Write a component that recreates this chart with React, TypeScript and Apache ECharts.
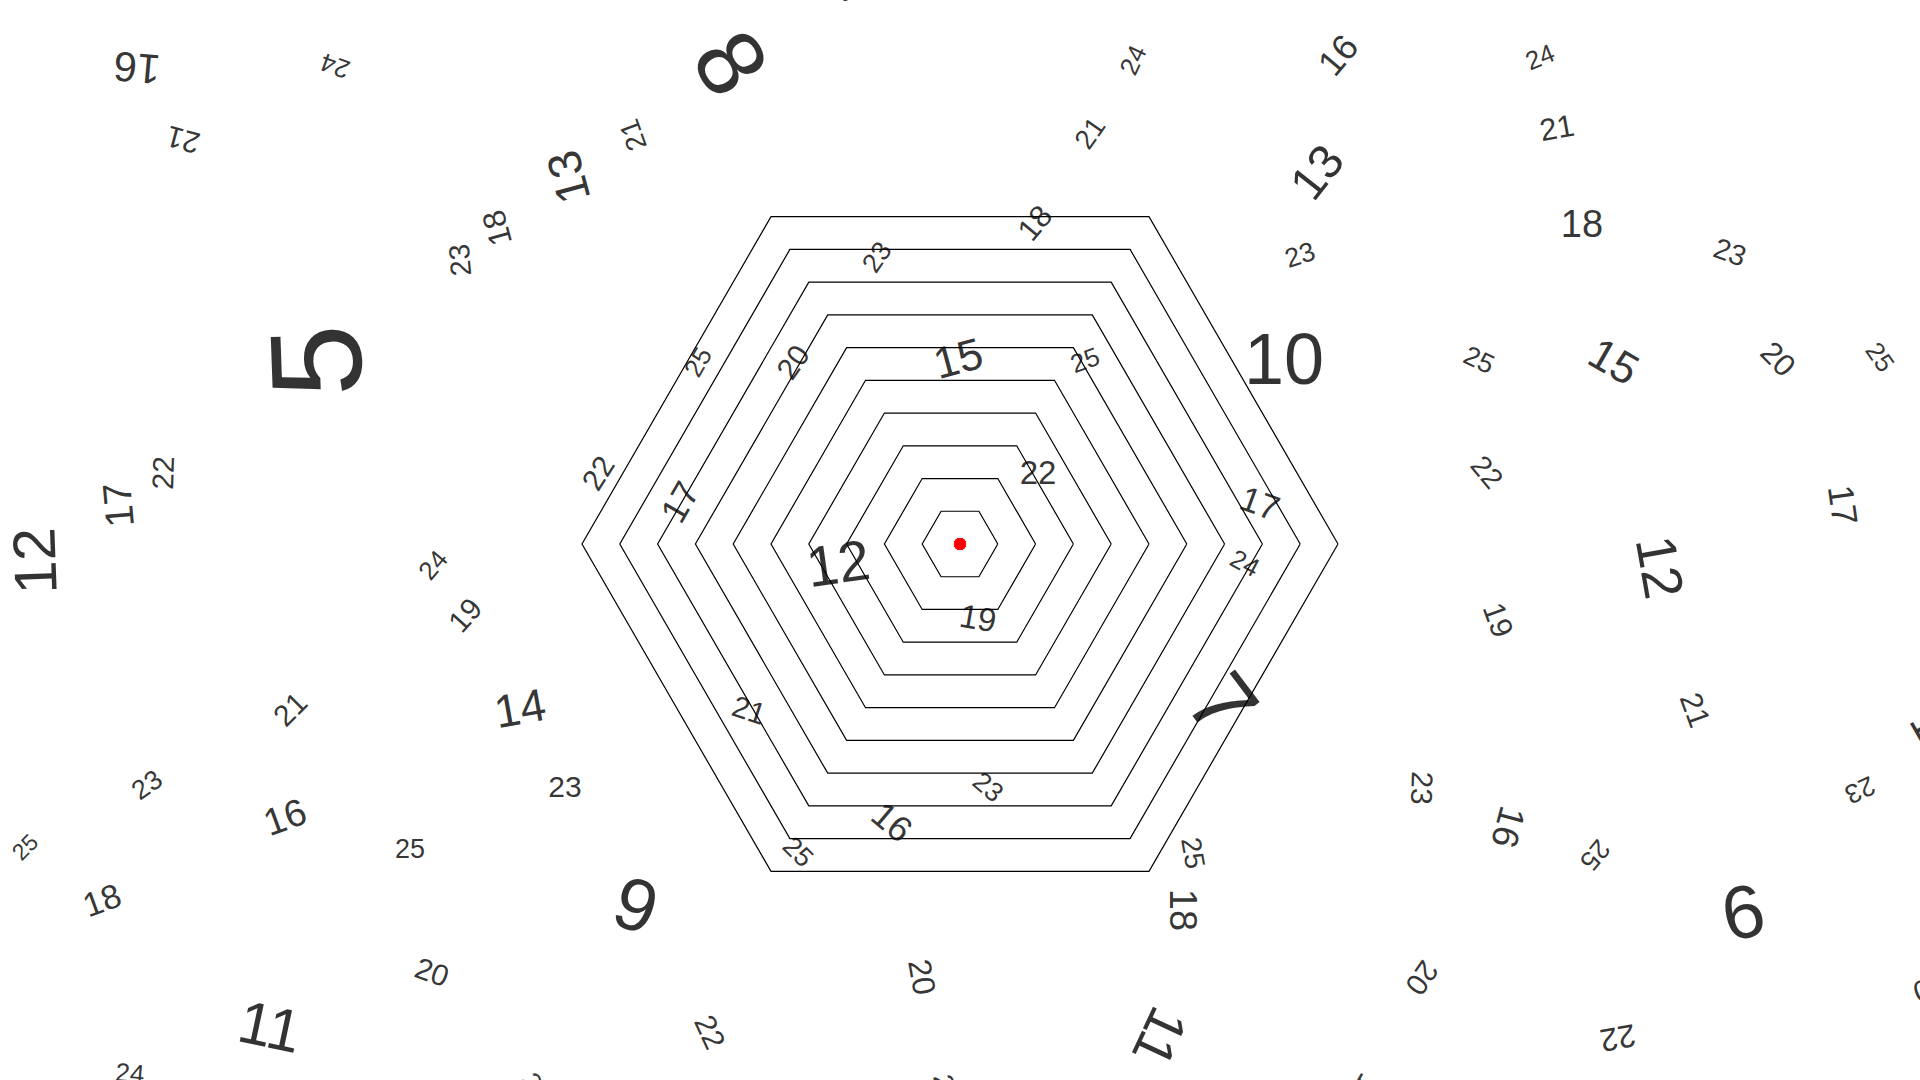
import React, { useEffect, useRef } from "react";
import * as echarts from "echarts";

// Scattered number labels (text, position in page pixels, font size, rotation in degrees CCW)
const labelTexts = [
  "16", "24", "21", "23", "5", "8", "21", "13", "18", "23",
  "18", "24", "21", "16", "13", "23", "10", "24", "21", "18",
  "23", "25", "15", "20", "25", "12", "17", "22", "24", "19",
  "21", "22", "17", "12", "25", "20", "21", "14", "22", "19",
  "17", "24", "15", "25", "7", "22", "12", "17", "19", "21",
  "23", "25", "16", "25", "18", "20", "11", "24", "23", "16",
  "25", "9", "22", "20", "23", "23", "25", "18", "20", "11",
  "16", "25", "6", "23", "22",
  "22", "25", "25", "24", "19", "14", "20",
];
const labelX = [
  137, 335, 183, 460, 316, 731, 633, 568, 497, 877,
  1035, 1133, 1090, 1338, 1317, 1300, 1284, 1540, 1557, 1582,
  1730, 1479, 1614, 1778, 1880, 35, 118, 163, 433, 465,
  290, 598, 680, 838, 698, 793, 749, 520, 1038, 978,
  1260, 1245, 958, 1085, 1223, 1487, 1660, 1843, 1498, 1695,
  147, 25, 285, 410, 102, 432, 270, 130, 565, 892,
  798, 636, 710, 922, 988, 1422, 1193, 1183, 1422, 1160,
  1508, 1595, 1743, 1860, 1618,
  340, 845, 535, 945, 1363, 1935, 1930,
];
const labelY = [
  68, 66, 140, 260, 361, 63, 135, 177, 228, 257,
  223, 60, 133, 55, 172, 255, 359, 57, 128, 224,
  252, 360, 361, 359, 357, 561, 505, 473, 565, 615,
  709, 473, 502, 563, 362, 362, 710, 708, 472, 618,
  503, 563, 358, 360, 704, 472, 567, 505, 620, 710,
  785, 847, 817, 849, 900, 972, 1027, 1073, 786, 822,
  852, 905, 1032, 977, 787, 788, 853, 910, 978, 1037,
  827, 855, 912, 790, 1038,
  -12, -13, 1088, 1090, 1092, 735, 988,
];
const labelSizes = [
  42, 26, 30, 29, 130, 95, 28, 47, 32, 27,
  31, 26, 28, 36, 48, 27, 72, 26, 31, 38,
  29, 27, 44, 31, 26, 60, 40, 30, 26, 30,
  30, 30, 36, 57, 26, 30, 30, 46, 33, 33,
  35, 26, 44, 26, 90, 29, 56, 36, 31, 31,
  27, 23, 38, 27, 34, 30, 60, 26, 30, 36,
  27, 74, 30, 32, 27, 30, 28, 38, 30, 55,
  37, 27, 75, 27, 32,
  28, 26, 27, 28, 32, 46, 30,
];
const labelAngles = [
  175, 160, 165, 95, 92, -57, 110, 105, 105, 55,
  50, 65, 55, 50, 52, 18, 0, 22, 10, 0,
  -20, -25, -30, -45, -55, 92, 95, 88, 50, 48,
  45, 58, 60, 8, 60, 55, -18, 10, 0, -10,
  -20, -28, 15, 20, -53, -50, -80, -82, -70, -70,
  35, 45, 20, 0, 20, -20, -12, -5, 0, -40,
  -45, -18, -65, -80, -40, -92, -80, -90, -125, -115,
  -105, -130, 12, -155, -170,
  170, 120, -60, -80, -120, -60, -160,
];

// Radar (hexagonal grid) definition
const radarIndicatorNames = ["A", "B", "C", "D", "E", "F"];
const radarMax = 10;
const centerValues = [0, 0, 0, 0, 0, 0];

export default function App() {
  const ref = useRef<HTMLDivElement | null>(null);

  useEffect(() => {
    if (!ref.current) return;
    const chart = echarts.init(ref.current, undefined, { renderer: "svg" });
    const option: any = {
      animation: false,
      backgroundColor: "#ffffff",
      grid: { left: 0, right: 0, top: 0, bottom: 0 },
      xAxis: { type: "value", min: 0, max: 1920, show: false },
      yAxis: { type: "value", min: 0, max: 1080, inverse: true, show: false },
      radar: {
        center: [960, 544],
        radius: 378,
        startAngle: 0,
        splitNumber: 10,
        shape: "polygon",
        indicator: radarIndicatorNames.map((n) => ({ name: n, min: 0, max: radarMax })),
        axisName: { show: false },
        axisLine: { show: false },
        axisTick: { show: false },
        axisLabel: { show: false },
        splitLine: { lineStyle: { color: "#000000", width: 1.2 } },
        splitArea: { show: false },
      },
      series: [
        {
          type: "radar",
          data: [{ value: centerValues }],
          symbol: "circle",
          symbolSize: 12,
          itemStyle: { color: "#ff0000" },
          lineStyle: { width: 0, opacity: 0 },
          z: 5,
          silent: true,
        },
        {
          type: "scatter",
          symbolSize: 1,
          clip: false,
          silent: true,
          itemStyle: { color: "transparent" },
          label: {
            show: true,
            position: "inside",
            formatter: "{b}",
            color: "#000000",
            fontFamily: "'Liberation Sans', Arial, sans-serif",
            align: "center",
            verticalAlign: "middle",
          },
          data: labelTexts.map((t, i) => ({
            name: t,
            value: [labelX[i], labelY[i]],
            label: { rotate: labelAngles[i], fontSize: labelSizes[i] },
          })),
        },
      ],
    };
    chart.setOption(option);
    return () => chart.dispose();
  }, []);

  return (
    <div
      ref={ref}
      style={{ position: "fixed", left: 0, top: 0, width: 1920, height: 1080, background: "#fff" }}
    />
  );
}
